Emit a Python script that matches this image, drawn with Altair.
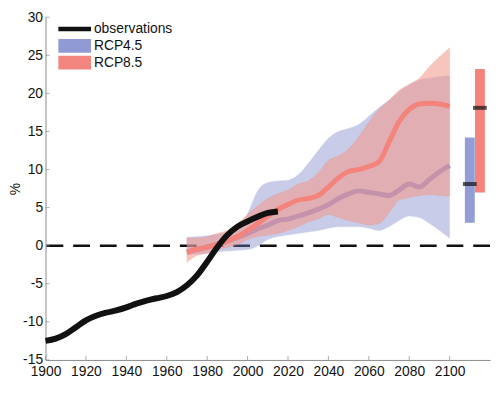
import altair as alt
import pandas as pd

# ---------------- data ----------------
obs_years = [1900, 1905, 1910, 1915, 1920, 1925, 1930, 1935, 1940, 1945, 1950, 1955,
             1960, 1965, 1970, 1975, 1980, 1985, 1990, 1995, 2000, 2005, 2010, 2015]
obs_values = [-12.5, -12.2, -11.6, -10.7, -9.8, -9.2, -8.8, -8.5, -8.1, -7.6, -7.2, -6.9,
              -6.6, -6.1, -5.2, -3.9, -2.1, -0.2, 1.4, 2.5, 3.2, 3.8, 4.3, 4.5]

proj_years = [1970, 1975, 1980, 1985, 1990, 1995, 2000, 2005, 2010, 2015, 2020, 2025, 2030,
              2035, 2040, 2045, 2050, 2055, 2060, 2065, 2070, 2075, 2080, 2085, 2090, 2095, 2100]

rcp45_low = [-1.2, -1.1, -1.0, -0.8, -0.7, -0.6, -0.5, -0.05, 0.8, 1.2, 1.4, 1.6, 1.8,
             2.0, 2.3, 2.5, 2.5, 2.5, 2.3, 2.0, 2.5, 3.3, 3.9, 3.7, 2.9, 2.0, 1.0]
rcp45_mid = [-0.8, -0.5, -0.2, 0.2, 0.6, 1.1, 1.6, 2.2, 2.7, 3.3, 3.5, 3.9, 4.3,
             4.8, 5.4, 6.2, 6.8, 7.2, 7.0, 6.8, 6.6, 7.3, 8.1, 7.7, 8.7, 9.7, 10.5]
rcp45_high = [1.1, 1.2, 1.3, 1.5, 1.8, 2.3, 4.2, 7.2, 8.3, 8.5, 8.6, 9.3, 10.8,
              12.5, 14.1, 15.0, 15.4, 15.9, 17.0, 18.1, 19.1, 20.2, 21.1, 21.8, 22.0, 22.2, 22.3]

rcp85_low = [-2.2, -1.3, -1.0, -0.5, -0.25, 0.17, 0.8, 1.2, 1.4, 1.6, 2.0, 2.5, 3.1,
             3.5, 4.1, 3.7, 3.3, 3.0, 2.7, 2.9, 4.3, 6.0, 6.3, 6.6, 6.7, 6.6, 6.5]
rcp85_mid = [-0.9, -0.45, -0.2, 0.2, 0.6, 1.2, 2.0, 2.9, 3.9, 4.75, 5.4, 6.0, 6.2,
             6.6, 7.7, 8.9, 9.75, 10.0, 10.4, 11.0, 13.6, 16.3, 17.9, 18.6, 18.7, 18.6, 18.3]
rcp85_high = [1.0, 1.0, 1.2, 1.6, 2.0, 2.9, 4.1, 5.2, 6.2, 6.8, 7.3, 8.1, 8.5,
              9.6, 11.2, 11.8, 12.7, 14.3, 16.2, 17.9, 19.1, 20.4, 21.2, 22.0, 23.5, 24.8, 26.0]

bar_series = ["RCP4.5", "RCP8.5"]
bar_years = [2110, 2115]
bar_low = [3.0, 7.0]
bar_high = [14.2, 23.2]
bar_mid = [8.1, 18.1]

legend_labels = ["observations", "RCP4.5", "RCP8.5"]
x_ticks = [1900, 1920, 1940, 1960, 1980, 2000, 2020, 2040, 2060, 2080, 2100]
y_ticks = [-15, -10, -5, 0, 5, 10, 15, 20, 25, 30]
zero_line = [0]

# ---------------- styles ----------------
FONT = "Liberation Sans"
AXIS_GRAY = "#8a8a8a"
BLUE_BAND = "#7882ca"
RED_BAND = "#f49687"
BLUE_LINE = "#8c8fd8"
RED_LINE = "#f4837b"
LEG_COLORS = ["#111111", "#909ad4", "#f3857f"]
BAR_COLORS = ["#939dd5", "#f4837b"]
# symbol paths (unit = 7px with symbolSize 196): 33px wide
PATH_LINE = "M-2.36,-0.33L2.36,-0.33L2.36,0.33L-2.36,0.33Z"
PATH_RECT = "M-2.36,-1L2.36,-1L2.36,1L-2.36,1Z"

XS = alt.Scale(domain=[1900, 2120], nice=False, zero=False, padding=0)
YS = alt.Scale(domain=[-15, 30], nice=False, zero=False, padding=0)
XAX = alt.Axis(values=x_ticks, title=None, format="d", labelOverlap=False,
               labelFlush=False)
YAX = alt.Axis(values=y_ticks, title="%", labelOverlap=False, labelFlush=False,
               labelExpr="replace(datum.label, '\u2212', '-')")


def X(f):
    return alt.X(f + ":Q", scale=XS, axis=XAX)


def Y(f):
    return alt.Y(f + ":Q", scale=YS, axis=YAX)


obs_df = pd.DataFrame({"year": obs_years, "value": obs_values})
proj_df = pd.DataFrame({
    "year": proj_years,
    "l45": rcp45_low, "m45": rcp45_mid, "h45": rcp45_high,
    "l85": rcp85_low, "m85": rcp85_mid, "h85": rcp85_high,
})
bar_df = pd.DataFrame({"series": bar_series, "year": bar_years,
                       "low": bar_low, "high": bar_high, "mid": bar_mid})
leg_df = pd.DataFrame({"series": legend_labels, "year": [1850] * 3, "value": [0] * 3})
xt_df = pd.DataFrame({"t": x_ticks, "base": [y_ticks[0]] * len(x_ticks)})
yt_df = pd.DataFrame({"t": y_ticks, "base": [x_ticks[0]] * len(y_ticks)})

zero = alt.Chart(pd.DataFrame({"z": zero_line})).mark_rule(
    color="#111111", strokeWidth=2.5, strokeDash=[17, 10]
).encode(y=Y("z"))

base = alt.Chart(proj_df)
band45 = base.mark_area(
    color=BLUE_BAND, opacity=0.4, interpolate="monotone",
    stroke=BLUE_BAND, strokeWidth=1, strokeOpacity=0.35
).encode(x=X("year"), y=Y("l45"), y2="h45")
mid45 = base.mark_line(color=BLUE_LINE, strokeWidth=5, interpolate="monotone").encode(
    x=X("year"), y=Y("m45"))
band85 = base.mark_area(
    color=RED_BAND, opacity=0.55, interpolate="monotone",
    stroke="#f08878", strokeWidth=1, strokeOpacity=0.4
).encode(x=X("year"), y=Y("l85"), y2="h85")
mid85 = base.mark_line(color=RED_LINE, strokeWidth=5, interpolate="monotone").encode(
    x=X("year"), y=Y("m85"))

obs = alt.Chart(obs_df).mark_line(color="#111111", strokeWidth=6,
                                  interpolate="monotone").encode(
    x=X("year"), y=Y("value"))

bar_layers = []
for i, s in enumerate(bar_series):
    bar_layers.append(
        alt.Chart(bar_df).transform_filter(alt.datum.series == s)
        .mark_bar(size=10, color=BAR_COLORS[i])
        .encode(x=X("year"), y=Y("low"), y2="high")
    )
bar_ticks = alt.Chart(bar_df).mark_tick(
    orient="horizontal", size=14, thickness=4, color="#111111").encode(
    x=X("year"), y=Y("mid"))

leg = alt.Legend(orient="none", legendX=22.5, legendY=5, title=None,
                 labelFont=FONT, labelFontSize=14, labelColor="#111111",
                 symbolSize=196, symbolStrokeWidth=0, symbolOpacity=1,
                 rowPadding=3, labelOffset=12.5, padding=0)
legend_layer = alt.Chart(leg_df).mark_point(filled=True, clip=True, opacity=1).encode(
    x=X("year"), y=Y("value"),
    color=alt.Color("series:N", scale=alt.Scale(domain=legend_labels, range=LEG_COLORS),
                    legend=leg),
    shape=alt.Shape("series:N",
                    scale=alt.Scale(domain=legend_labels,
                                    range=[PATH_LINE, PATH_RECT, PATH_RECT]),
                    legend=leg),
)

xt = alt.Chart(xt_df).mark_tick(
    orient="vertical", size=4, thickness=1, yOffset=-2, color=AXIS_GRAY).encode(
    x=X("t"), y=Y("base"))
yt = alt.Chart(yt_df).mark_tick(
    orient="horizontal", size=4, thickness=1, xOffset=2, color=AXIS_GRAY).encode(
    x=X("base"), y=Y("t"))

chart = alt.layer(
    zero, band45, mid45, band85, mid85, obs, *bar_layers, bar_ticks, legend_layer, xt, yt
).properties(
    width=450, height=347,
    padding={"left": 0, "top": 0, "right": 0, "bottom": 0}
).configure_view(stroke=None).configure_axis(
    grid=False, ticks=False, tickSize=0, domainColor=AXIS_GRAY, domainWidth=1,
    labelFont=FONT, labelFontSize=14, labelColor="#111111",
    titleFont=FONT, titleFontSize=14, titleColor="#111111", titleFontWeight="normal",
).configure_axisY(labelPadding=3, titlePadding=0).configure_axisX(labelPadding=5)

chart.save("out.html", embed_options={"renderer": "svg", "actions": False})
